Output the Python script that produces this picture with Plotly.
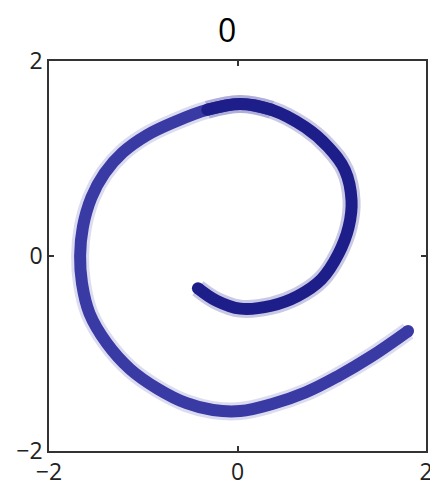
import plotly.graph_objects as go

# spiral centreline, inner end -> outer end
inner_x = [-0.42, -0.22, 0.03, 0.36, 0.64, 0.89, 1.07, 1.18, 1.21,
           1.14, 0.96, 0.72, 0.36, 0.03, -0.32]
inner_y = [-0.33, -0.46, -0.54, -0.51, -0.41, -0.24, 0.02, 0.30, 0.57,
           0.88, 1.12, 1.32, 1.50, 1.56, 1.50]
outer_x = [0.36, 0.03, -0.32, -0.68, -0.96, -1.22, -1.41, -1.55, -1.64, -1.67,
           -1.65, -1.57, -1.39, -1.14, -0.85, -0.54, -0.26, 0.03, 0.36, 0.72,
           1.07, 1.42, 1.81]
outer_y = [1.50, 1.56, 1.50, 1.37, 1.24, 1.06, 0.85, 0.60, 0.30, 0.00,
           -0.28, -0.59, -0.89, -1.16, -1.36, -1.51, -1.58, -1.59, -1.52, -1.40,
           -1.23, -1.03, -0.77]
tick_vals = [-2, 0, 2]
tick_text = ["\u22122", "0", "2"]
title_text = "0"

fig = go.Figure()

for xs, ys, core, halo in [
    (outer_x, outer_y, "rgb(58,58,164)", "rgba(80,80,185,0.2)"),
    (inner_x, inner_y, "rgb(30,30,138)", "rgba(40,40,150,0.25)"),
]:
    fig.add_trace(go.Scatter(x=xs, y=ys, mode="lines",
                             line=dict(color=halo, width=18, shape="spline", smoothing=1.1),
                             hoverinfo="skip"))
    fig.add_trace(go.Scatter(x=xs, y=ys, mode="lines",
                             line=dict(color=core, width=12, shape="spline", smoothing=1.1),
                             hoverinfo="skip"))
    # round the two ends of each band
    fig.add_trace(go.Scatter(x=[xs[0], xs[-1]], y=[ys[0], ys[-1]], mode="markers",
                             marker=dict(color=core, size=12), hoverinfo="skip"))

axis_style = dict(range=[-2, 2], tickvals=tick_vals, ticktext=tick_text,
                  ticks="inside", ticklen=5, tickcolor="#333", tickwidth=1.5,
                  showline=True, linecolor="#333", linewidth=1.5, mirror="ticks",
                  showgrid=False, zeroline=False, automargin=False,
                  tickfont=dict(family="Open Sans, sans-serif", size=23, color="#222"))

# page body adds an 8px margin, so the figure is 8px smaller and shifted
fig.update_layout(
    width=430, height=479,
    margin=dict(l=41, r=12, t=53, b=36),
    paper_bgcolor="white", plot_bgcolor="white",
    showlegend=False,
    xaxis=axis_style,
    yaxis=axis_style,
    annotations=[dict(text=title_text, xref="paper", yref="paper", x=0.472, y=1.082,
                      xanchor="center", yanchor="middle", showarrow=False,
                      font=dict(family="Open Sans, sans-serif", size=32, color="black"))],
)

fig.write_html("out.html")
